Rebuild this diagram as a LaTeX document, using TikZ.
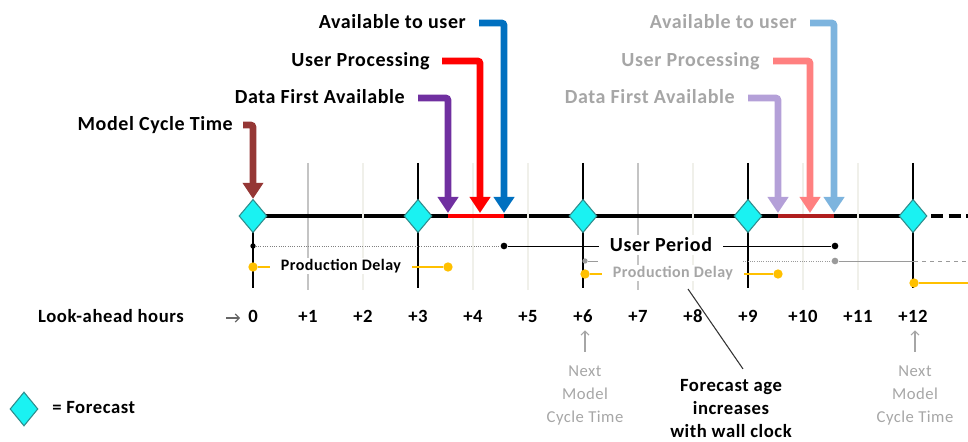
\documentclass[tikz,border=0pt]{standalone}
\usepackage{fontspec}
\setmainfont{Carlito}[LetterSpace=3]
\usetikzlibrary{arrows.meta,shapes.geometric}
\definecolor{diafill}{HTML}{1AF2F2}
\definecolor{diaedge}{HTML}{2E8C8C}
\definecolor{mctbrown}{HTML}{953735}
\definecolor{dfapurple}{HTML}{7030A0}
\definecolor{procred}{HTML}{FF0000}
\definecolor{availblue}{HTML}{0070C0}
\definecolor{dfalight}{HTML}{B4A0D8}
\definecolor{proclight}{HTML}{FF8080}
\definecolor{availlight}{HTML}{7DB4DE}
\definecolor{segdark}{HTML}{B01E1E}
\definecolor{pdyellow}{HTML}{FFC000}
\definecolor{softtext}{HTML}{A6A6A6}
\definecolor{gridgray}{HTML}{C4C4C4}
\definecolor{faintgray}{HTML}{F0F0EA}
\definecolor{periodgray}{HTML}{9A9A9A}
\begin{document}
\begin{tikzpicture}[x=0.75pt,y=-0.75pt,
  forecast/.style={diamond, draw=diaedge, fill=diafill, line width=0.8pt,
    minimum width=21pt, minimum height=25pt, inner sep=0pt},
  majorline/.style={line width=2.2pt, black},
  minorline/.style={line width=1.6pt, gridgray},
  faintline/.style={line width=2.2pt, faintgray},
  callout/.style={line width=5.2pt, rounded corners=2pt, -{Triangle[width=15pt,length=12pt]}},
  headlbl/.style={font=\fontsize{15}{18}\selectfont\bfseries, inner sep=0pt, anchor=base east},
  ticklbl/.style={font=\fontsize{14}{16}\selectfont\bfseries, inner sep=0pt, anchor=base},
  pdlbl/.style={font=\fontsize{12}{14}\selectfont\bfseries, fill=white, inner xsep=8pt, inner ysep=1pt},
  blob/.style={circle, fill=#1, inner sep=0pt, minimum size=5pt},
  thinarrow/.style={line width=0.8pt, -{Straight Barb[length=3pt,width=6pt]}},
  nextlbl/.style={font=\fontsize{12.5}{17.25}\selectfont, text=softtext, align=center, inner sep=0pt}
]
\useasboundingbox (0,0) rectangle (968,442);

% hour grid
\foreach \h in {1,7} \draw[minorline] ({253+55*\h},163) -- ({253+55*\h},290);
\foreach \h in {3,6,9,12} \draw[majorline] ({253+55*\h},163) -- ({253+55*\h},288);
\draw[majorline] (253,216) -- (253,288);

% time axis
\draw[line width=3pt] (253,216) -- (914,216);
\draw[line width=3pt, dash pattern=on 9pt off 4pt] (914,216) -- (968,216);
\foreach \h in {2,4,5,8,10,11} \draw[faintline] ({253+55*\h},163) -- ({253+55*\h},290);

% processing windows
\draw[line width=3pt, procred] (448,216) -- (504,216);
\draw[line width=3pt, segdark] (778,216) -- (834,216);

% callout labels
\node[headlbl] (avail1) at (466,29) {Available to user};
\node[headlbl] (proc1) at (430,67) {User Processing};
\node[headlbl] (dfa1) at (405,104) {Data First Available};
\node[headlbl] (mct) at (233,131) {Model Cycle Time};
\node[headlbl, text=softtext] (avail2) at (797,29) {Available to user};
\node[headlbl, text=softtext] (proc2) at (760,67) {User Processing};
\node[headlbl, text=softtext] (dfa2) at (735,104) {Data First Available};

% forecasts
\foreach \h in {0,3,6,9,12} \node[forecast] (d\h) at ({253+55*\h},216) {};

% callout arrows
\coordinate (tip-dfa1) at (448,213);
\coordinate (tip-proc1) at (480,213);
\coordinate (tip-avail1) at (504,213);
\coordinate (tip-dfa2) at (778,213);
\coordinate (tip-proc2) at (810,213);
\coordinate (tip-avail2) at (834,213);
\draw[callout, mctbrown] ([shift={(10,-6)}]mct.base east) -| (d0.north);
\draw[callout, dfapurple] ([shift={(13,-6)}]dfa1.base east) -| (tip-dfa1);
\draw[callout, procred] ([shift={(12,-6)}]proc1.base east) -| (tip-proc1);
\draw[callout, availblue] ([shift={(13,-6)}]avail1.base east) -| (tip-avail1);
\draw[callout, dfalight] ([shift={(13,-6)}]dfa2.base east) -| (tip-dfa2);
\draw[callout, proclight] ([shift={(13,-6)}]proc2.base east) -| (tip-proc2);
\draw[callout, availlight] ([shift={(13,-6)}]avail2.base east) -| (tip-avail2);

% user period
\node[blob=black, minimum size=4pt] (up0) at (253,246) {};
\node[blob=black] (up1) at (504,246) {};
\node[blob=black] (up2) at (835,246) {};
\draw[densely dotted, line width=0.7pt, gray] (up0) -- (up1);
\draw[line width=0.7pt] (up1) -- (up2);
\node[fill=white, font=\fontsize{15}{18}\selectfont\bfseries, inner xsep=8pt, inner ysep=2pt] (uperiod) at (661,245) {User Period};

% next user period
\node[blob=periodgray, minimum size=4pt] (gp0) at (585,261) {};
\node[blob=periodgray] (gp1) at (835,261) {};
\coordinate (gp-a) at (598,261);
\coordinate (gp-b) at (743,261);
\coordinate (gp-c) at (914,261);
\coordinate (gp-d) at (968,261);
\draw[periodgray, line width=0.7pt] (gp0) -- (gp-a);
\draw[periodgray, densely dotted, line width=0.7pt] (gp-b) -- (gp1);
\draw[periodgray, line width=0.7pt] (gp1) -- (gp-c);
\draw[periodgray, dashed, line width=0.7pt] (gp-c) -- (gp-d);

% production delays
\node[blob=pdyellow, minimum size=7pt] (pd0a) at (253,267) {};
\node[blob=pdyellow, minimum size=7pt] (pd0b) at (448,267) {};
\draw[pdyellow, line width=0.8pt] (pd0a) -- (pd0b);
\node[pdlbl] (pd0) at (341,266) {Production Delay};
\node[blob=pdyellow, minimum size=7pt] (pd1a) at (585,274) {};
\node[blob=pdyellow, minimum size=7pt] (pd1b) at (778,274) {};
\draw[pdyellow, line width=0.8pt] (pd1a) -- (pd1b);
\node[pdlbl, text=softtext] (pd1) at (673,273) {Production Delay};
\node[blob=pdyellow, minimum size=7pt] (pd2a) at (914,283) {};
\coordinate (pd2b) at (968,283);
\draw[pdyellow, line width=0.8pt] (pd2a) -- (pd2b);

% look-ahead hours
\node[ticklbl] (lah) at (111,322) {Look-ahead hours};
\node[ticklbl] (h0) at (253,322) {0};
\foreach \h in {1,...,12} \node[ticklbl] (h\h) at ({253+55*\h},322) {+\h};
\coordinate (la-a) at (226,318);
\coordinate (la-b) at (240,318);
\draw[thinarrow, gray!80!black] (la-a) -- (la-b);

% next cycle notes
\node[nextlbl] (next6) at (585,395) {Next\\Model\\Cycle Time};
\node[nextlbl] (next12) at (915,395) {Next\\Model\\Cycle Time};
\draw[thinarrow, softtext, shorten <=10pt, shorten >=6pt] (next6.north) -- (next6.north |- h6.south);
\draw[thinarrow, softtext, shorten <=10pt, shorten >=6pt] (next12.north) -- (next12.north |- h12.south);

% forecast age note
\node[font=\fontsize{14}{17.25}\selectfont\bfseries, align=center, inner sep=0pt] (fage) at (731,409) {Forecast age\\increases\\with wall clock};
\coordinate (agept) at (688,289);
\draw[line width=0.8pt, black!80] (agept) -- ([xshift=9pt,yshift=8pt]fage.north);

% legend
\node[forecast, minimum height=25.5pt] (legend) at (24,409) {};
\node[font=\fontsize{14}{16}\selectfont\bfseries, anchor=base west, inner sep=0pt] (legtxt) at (52,413) {= Forecast};
\end{tikzpicture}
\end{document}
